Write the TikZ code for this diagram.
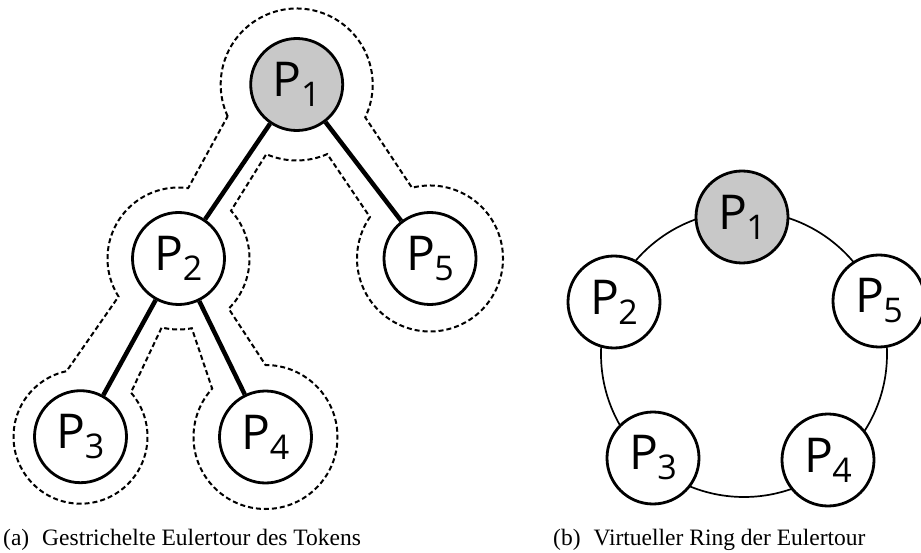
\documentclass[tikz,border=0pt]{standalone}
\usepackage{fontspec}
\setmainfont{Liberation Serif}
\newfontfamily\procfont{Open Sans}
\usetikzlibrary{calc}
\definecolor{rootgray}{RGB}{200,200,200}
% process label: P with a lowered index
\newcommand\proclabel[1]{{\procfont\fontsize{48}{50}\selectfont P\kern-0.5pt\raisebox{-10pt}{\fontsize{34}{35}\selectfont #1}}}

\begin{document}
\begin{tikzpicture}[x=1pt,y=-1pt,
  proc/.style={circle,draw,line width=2.8pt,fill=white,minimum size=92pt,inner sep=0pt},
  root/.style={proc,fill=rootgray},
  treeedge/.style={line width=4.5pt},
  tour/.style={line width=2pt,dash pattern=on 5pt off 3pt},
  ringline/.style={line width=1.7pt},
  caption/.style={anchor=base west,inner sep=0pt,font=\fontsize{23.5}{28}\selectfont}]
\useasboundingbox (0,0) rectangle (921,553);

% ---------- (a) spanning tree with the dashed Euler tour ----------
\node[root] (a1) at (296.7,84.5) {\proclabel{1}};
\node[proc] (a2) at (178.5,258.5) {\proclabel{2}};
\node[proc] (a3) at (80.5,436.7) {\proclabel{3}};
\node[proc] (a4) at (265.5,437) {\proclabel{4}};
\node[proc] (a5) at (430,258.5) {\proclabel{5}};

\draw[treeedge] (a1) -- (a2);
\draw[treeedge] (a1) -- (a5);
\draw[treeedge] (a2) -- (a3);
\draw[treeedge] (a2) -- (a4);

% tour around the tree: arcs round the nodes, straight runs beside the edges
\draw[tour]
  ($(a1.center)+(155.3:76)$) arc[start angle=155.3,end angle=385.6,radius=76]
  -- ($(a5.center)+(255.7:73)$) arc[start angle=255.7,end angle=574.6,radius=73]
  -- ($(a1.center)+(66.3:76)$) arc[start angle=66.3,end angle=113.6,radius=76]
  -- ($(a2.center)+(317.7:71)$) arc[start angle=317.7,end angle=405,radius=71]
  -- ($(a4.center)+(270:72)$) arc[start angle=270,end angle=582.2,radius=72]
  -- ($(a2.center)+(79.2:71)$) arc[start angle=79.2,end angle=103.7,radius=71]
  -- ($(a3.center)+(318.8:67)$) arc[start angle=318.8,end angle=618,radius=67]
  -- ($(a2.center)+(147.6:71)$) arc[start angle=147.6,end angle=277.8,radius=71]
  -- cycle;

\node[caption] (capa) at (3,545) {(a)\hspace{0.55em}Gestrichelte Eulertour des Tokens};

% ---------- (b) virtual ring ----------
\coordinate (ringc) at (744,354);
\draw[ringline] (ringc) circle[radius=143];

\node[root] (b1) at (742,217) {\proclabel{1}};
\node[proc] (b2) at (614,302) {\proclabel{2}};
\node[proc] (b3) at (653,458) {\proclabel{3}};
\node[proc] (b4) at (828,460) {\proclabel{4}};
\node[proc] (b5) at (879,301) {\proclabel{5}};

\node[caption] (capb) at (553,545) {(b)\hspace{0.55em}Virtueller Ring der Eulertour};
\end{tikzpicture}
\end{document}
